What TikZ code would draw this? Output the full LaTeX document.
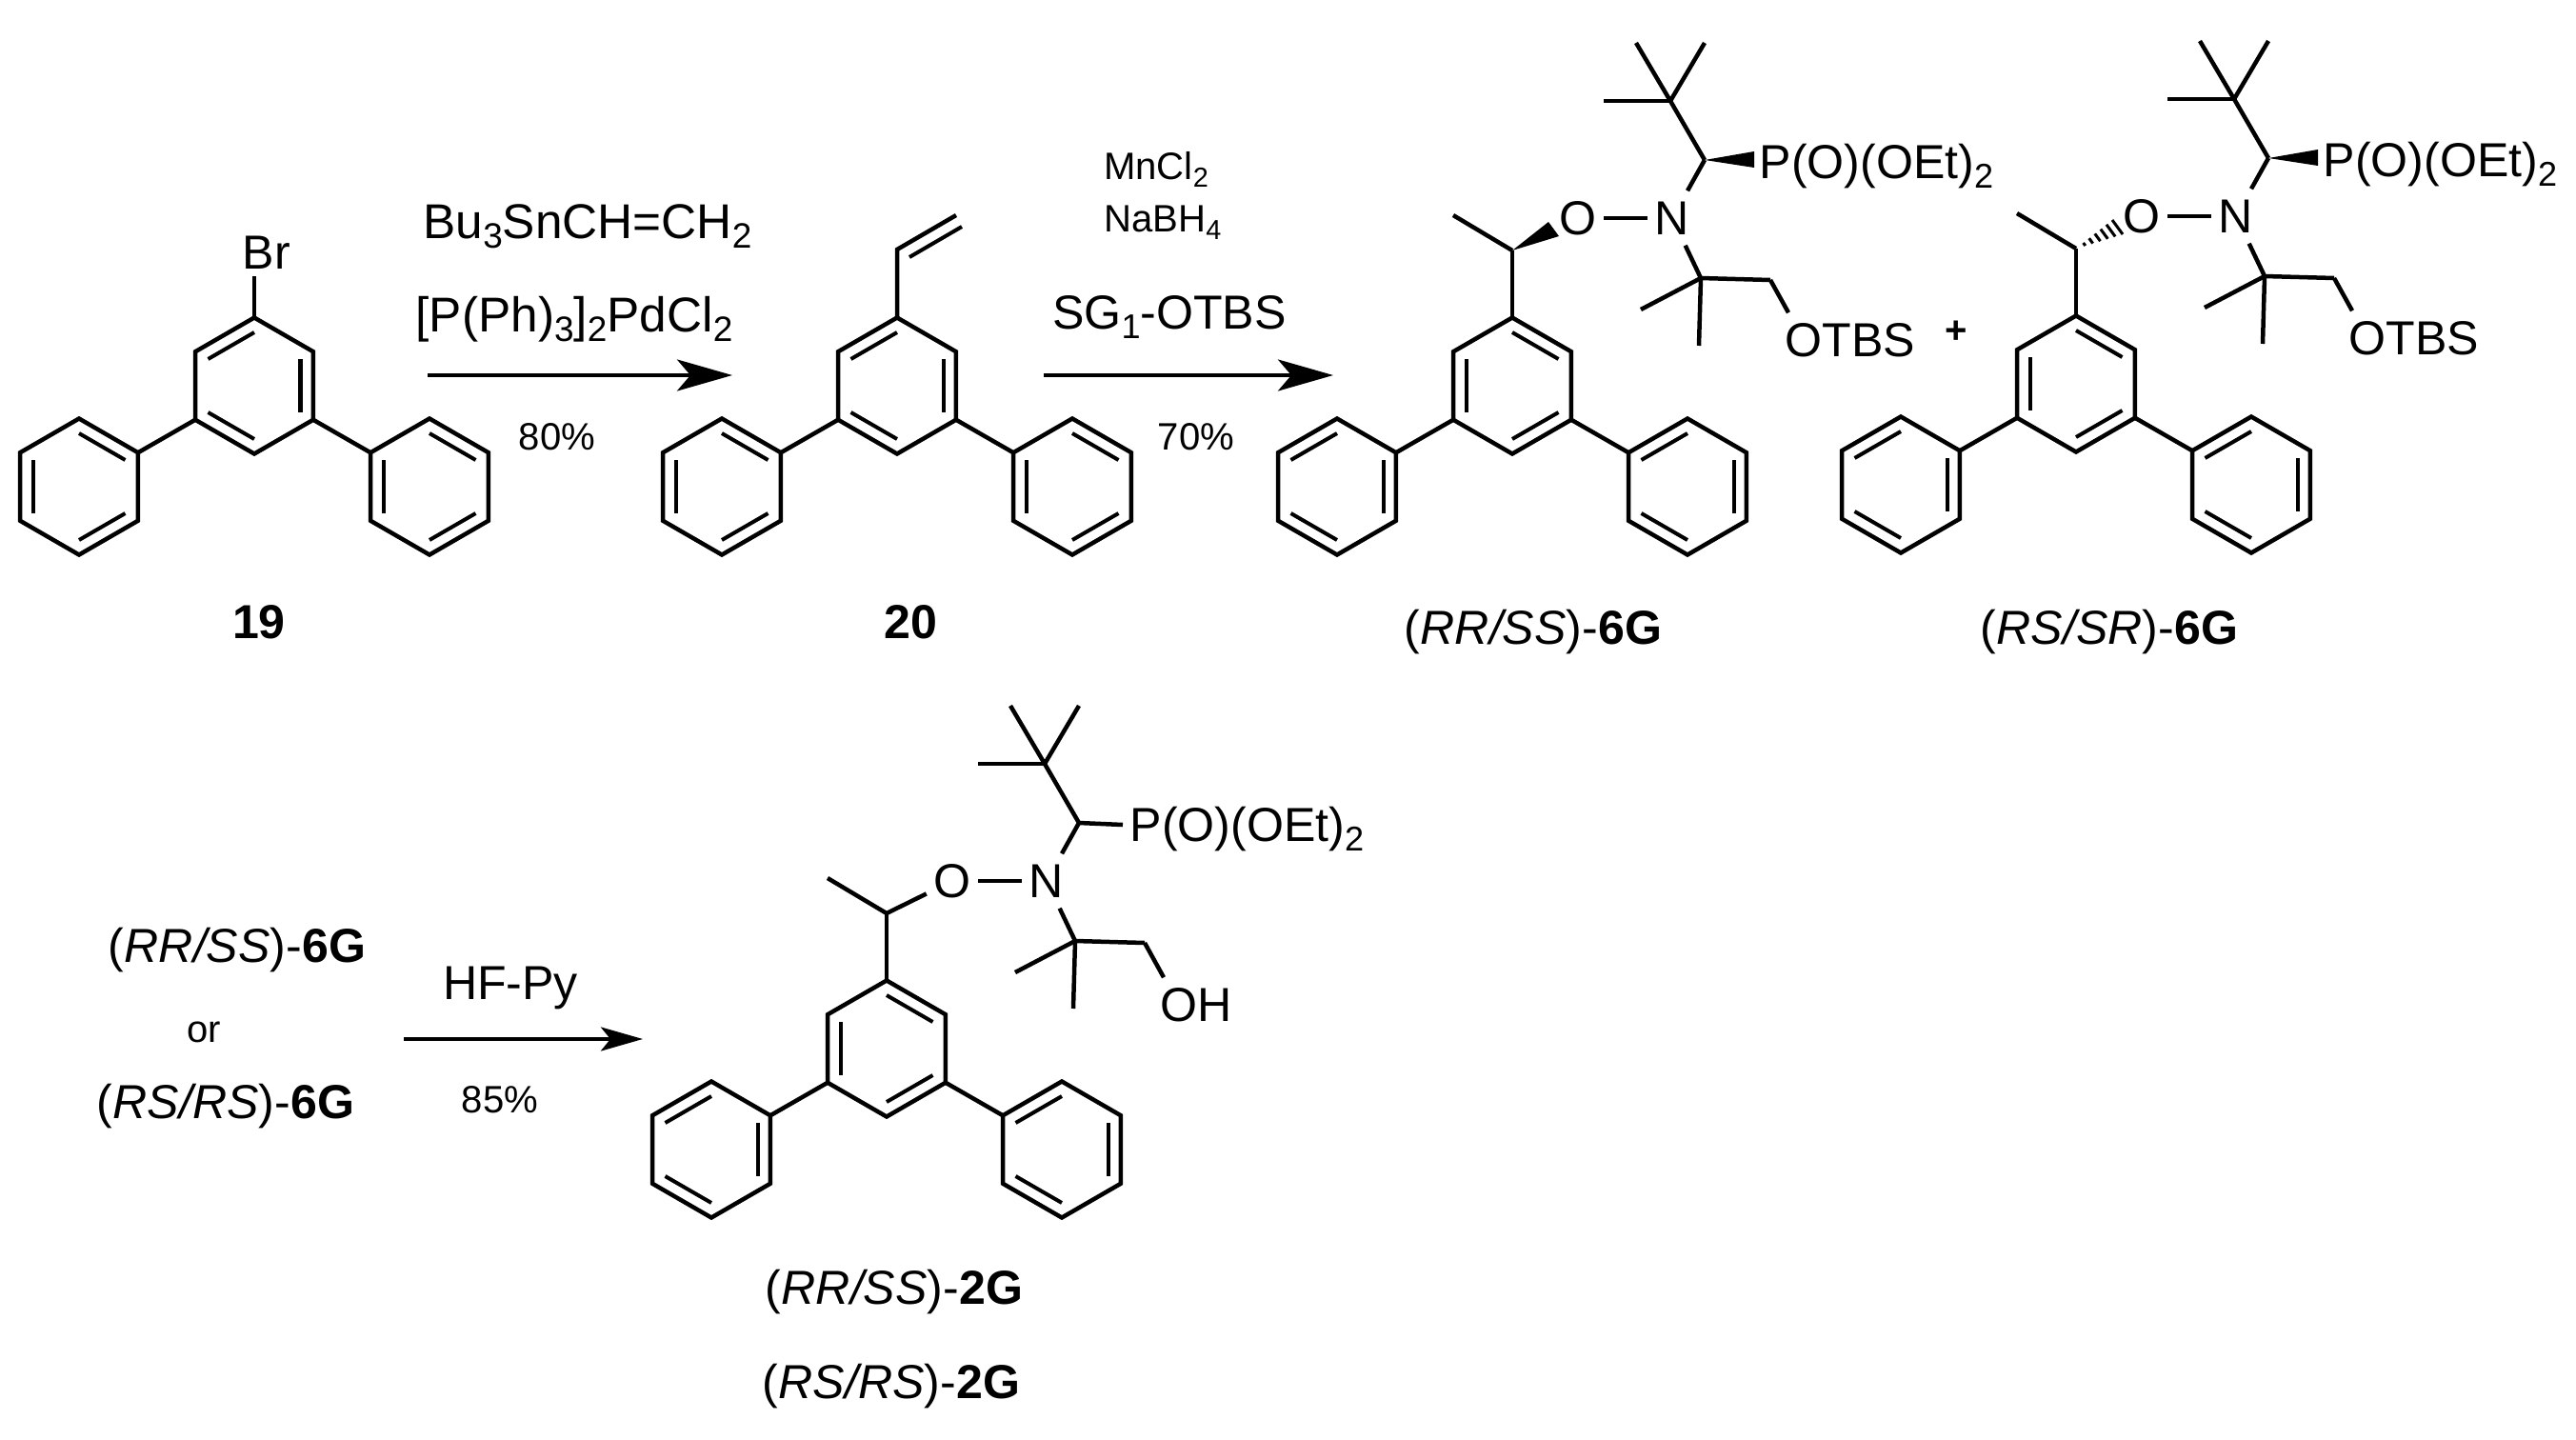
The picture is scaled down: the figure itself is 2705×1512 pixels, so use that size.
\documentclass[tikz,border=0pt]{standalone}
\usepackage{fontspec}
\setmainfont{Liberation Sans}
\usetikzlibrary{arrows.meta,calc,positioning}

\tikzset{
    bond/.style={line width=.045cm,line join=miter,line cap=butt},
    inner/.style={line width=.04cm},
    rxn/.style={line width=.04cm,-{Stealth[length=.58cm,width=.33cm,inset=.14cm]}},
    rxnsmall/.style={line width=.04cm,-{Stealth[length=.44cm,width=.25cm,inset=.1cm]}},
    txt/.style={inner sep=0pt,text height=.34cm,text depth=0pt,font=\fontsize{14.25}{16}\selectfont},
    txtbig/.style={txt,font=\fontsize{14.6}{16}\selectfont},
    txtsmall/.style={txt,text height=.29cm,font=\fontsize{11.4}{13}\selectfont},
    atom/.style={txt,inner xsep=.07cm,inner ysep=.11cm},
}
\newcommand{\sbs}[1]{\raisebox{-.2em}{\scalebox{.72}{#1}}}
\newcommand{\hexR}{71.5}
\newcommand{\hexr}{56}

% one benzene ring: centre, list of start angles of the double bonds
\newcommand{\benz}[2]{
    \draw[bond] (#1)+(30:\hexR) -- +(90:\hexR) -- +(150:\hexR) -- +(210:\hexR) -- +(270:\hexR) -- +(330:\hexR) -- cycle;
    \foreach \ang in {#2}
        \draw[inner] (#1)+(\ang:\hexr) -- +(\ang+60:\hexr);
}
% three rings round the local origin
\newcommand{\terph}[2]{
    \coordinate (mid) at (0,0);
    \coordinate (lft) at (-184,106);
    \coordinate (rgt) at (184,106);
    \benz{mid}{#1}
    \benz{lft}{#2}
    \benz{rgt}{#2}
    \draw[bond] (mid)+(150:\hexR) -- ($(lft)+(330:\hexR)$);
    \draw[bond] (mid)+(30:\hexR) -- ($(rgt)+(210:\hexR)$);
}
% the open chain, all but the bonds that differ
\newcommand{\chain}{
    \coordinate (ch) at (0,-142);
    \coordinate (me) at (-62,-179);
    \coordinate (cu) at (202,-237);
    \coordinate (cb) at (166,-299);
    \coordinate (ta) at (130,-360);
    \coordinate (tb) at (202,-360);
    \coordinate (tc) at (96,-299);
    \coordinate (cq) at (198,-113);
    \coordinate (ma) at (135,-80);
    \coordinate (mb) at (196,-42);
    \coordinate (cn) at (271,-111);
    \node[atom] (oa) at (69,-176) {O};
    \node[atom] (na) at (168,-176) {N};
    \draw[bond] (0,-71) -- (ch);
    \draw[bond] (ch) -- (me);
    \draw[bond] (oa) -- (na);
    \draw[bond] (na) -- (cu);
    \draw[bond] (cu) -- (cb);
    \draw[bond] (cb) -- (ta);
    \draw[bond] (cb) -- (tb);
    \draw[bond] (cb) -- (tc);
    \draw[bond] (na) -- (cq);
    \draw[bond] (cq) -- (ma);
    \draw[bond] (cq) -- (mb);
    \draw[bond] (cq) -- (cn);
}

\begin{document}
\begin{tikzpicture}[x=.01cm,y=-.01cm]
    \useasboundingbox (0,0) rectangle (2705,1512);

    % 19
    \begin{scope}[shift={(267,405)}]
        \terph{90,210,330}{30,150,270}
        \coordinate (top19) at (0,-71);
        \node[atom,inner ysep=.07cm] (br) at (13,-140) {Br};
        \draw[bond] (top19) -- (br.south -| top19);
    \end{scope}
    \node[txt] (n19) at (272,653) {\textbf{19}};

    % 20
    \begin{scope}[shift={(942,405)}]
        \terph{90,210,330}{30,150,270}
        \coordinate (top20) at (0,-71);
        \coordinate (vya) at (0,-143);
        \coordinate (vyb) at (62,-179);
        \coordinate (vyc) at (13,-135);
        \coordinate (vyd) at (68,-167);
        \draw[bond] (top20) -- (vya) -- (vyb);
        \draw[inner] (vyc) -- (vyd);
    \end{scope}
    \node[txt] (n20) at (956,653) {\textbf{20}};

    % RR/SS-6G
    \begin{scope}[shift={(1588,405)}]
        \terph{30,150,270}{90,210,330}
        \chain
        \node[atom,anchor=west] (pa) at (252,-235) {P(O)(OEt)\sbs{2}};
        \node[atom,anchor=west] (ota) at (279,-48) {OTBS};
        \fill (ch) -- ++(38,-30) -- ++(11,15) -- cycle;
        \fill (cu) -- ++(52,-9) -- ++(0,17) -- cycle;
        \draw[bond] (cn) -- ([xshift=.11cm]ota.north west);
    \end{scope}
    \node[txt] (l6a) at (1610,659) {(\textit{RR/SS})-\textbf{6G}};

    \node[txtsmall] (plus) at (2054,346) {\textbf{+}};

    % RS/SR-6G
    \begin{scope}[shift={(2180,403)}]
        \terph{30,150,270}{90,210,330}
        \chain
        \node[atom,anchor=west] (pb) at (252,-235) {P(O)(OEt)\sbs{2}};
        \node[atom,anchor=west] (otb) at (279,-48) {OTBS};
        \foreach \t in {.2,.36,.52,.68,.84,1}
            \draw[line width=.03cm] ($(ch)+\t*(38,-30)$) -- ($(ch)+\t*(49,-15)$);
        \fill (cu) -- ++(52,-9) -- ++(0,17) -- cycle;
        \draw[bond] (cn) -- ([xshift=.11cm]otb.north west);
    \end{scope}
    \node[txt] (l6b) at (2215,659) {(\textit{RS/SR})-\textbf{6G}};

    % 2G
    \begin{scope}[shift={(931,1101)}]
        \terph{30,150,270}{90,210,330}
        \chain
        \node[atom,anchor=west] (pc) at (248,-235) {P(O)(OEt)\sbs{2}};
        \node[atom,anchor=west] (oh) at (280,-46) {OH};
        \draw[bond] (ch) -- (oa);
        \draw[bond] (cu) -- (pc.west);
        \draw[bond] (cn) -- ([xshift=.11cm]oh.north west);
    \end{scope}
    \node[txt] (l2a) at (939,1352) {(\textit{RR/SS})-\textbf{2G}};
    \node[txt] (l2b) at (936,1451) {(\textit{RS/RS})-\textbf{2G}};

    % first arrow
    \node[txtbig] (ra) at (617,233) {Bu\sbs{3}SnCH=CH\sbs{2}};
    \node[txtbig] (rb) at (603,331) {[P(Ph)\sbs{3}]\sbs{2}PdCl\sbs{2}};
    \node[txtsmall] (rc) at (585,458) {80\%};
    \coordinate (a1) at (449,394);
    \coordinate (a2) at (769,394);
    \draw[rxn] (a1) -- (a2);

    % second arrow
    \node[txtsmall] (rd) at (1214,174) {MnCl\sbs{2}};
    \node[txtsmall] (re) at (1221,229) {NaBH\sbs{4}};
    \node[txt] (rf) at (1228,328) {SG\sbs{1}-OTBS};
    \node[txtsmall] (rg) at (1256,458) {70\%};
    \coordinate (b1) at (1096,394);
    \coordinate (b2) at (1400,394);
    \draw[rxn] (b1) -- (b2);

    % third arrow
    \node[txt] (sa) at (249,993) {(\textit{RR/SS})-\textbf{6G}};
    \node[txtsmall] (sb) at (214,1080) {or};
    \node[txt] (sc) at (237,1157) {(\textit{RS/RS})-\textbf{6G}};
    \node[txt] (sd) at (536,1032) {HF-Py};
    \node[txtsmall] (se) at (525,1154) {85\%};
    \coordinate (c1) at (424,1091);
    \coordinate (c2) at (675,1091);
    \draw[rxnsmall] (c1) -- (c2);
\end{tikzpicture}
\end{document}
